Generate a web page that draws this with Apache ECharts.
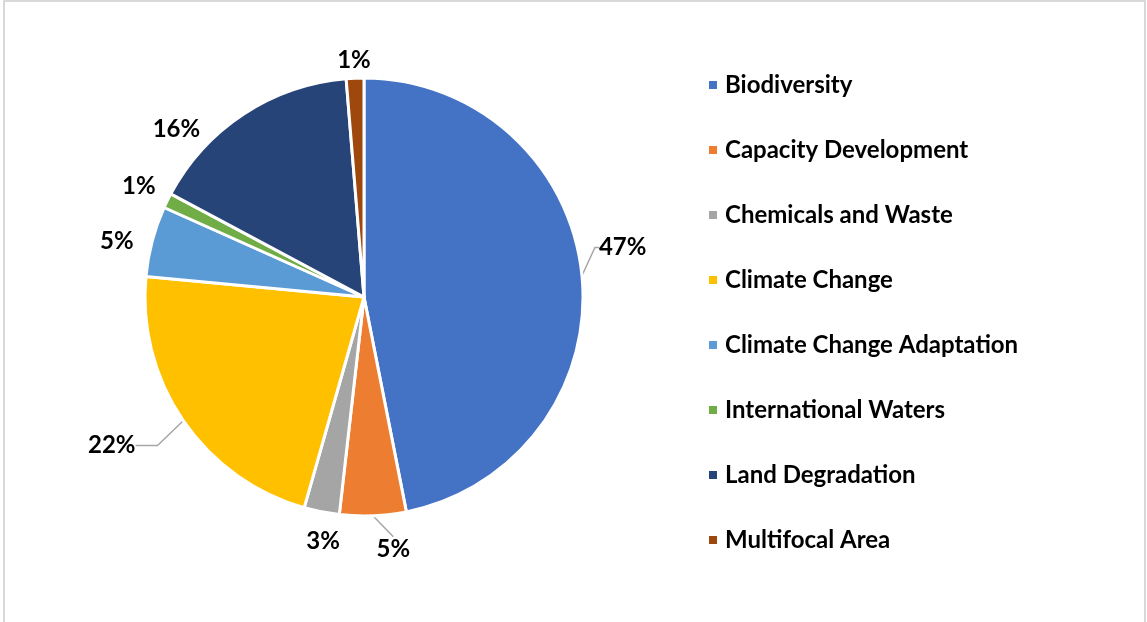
<!DOCTYPE html>
<html>
<head>
<meta charset="utf-8">
<script src="https://cdn.jsdelivr.net/npm/echarts@6/dist/echarts.min.js"></script>
<style>html,body{margin:0;padding:0;background:#fff}#c{width:1147px;height:622px}</style>
</head>
<body>
<div id="c"></div>
<script>
var categories = ['Biodiversity','Capacity Development','Chemicals and Waste','Climate Change','Climate Change Adaptation','International Waters','Land Degradation','Multifocal Area'];
var values = [46.9, 4.9, 2.6, 22.1, 5.2, 1.1, 15.9, 1.3];
var colors = ['#4472C4','#ED7D31','#A5A5A5','#FFC000','#5B9BD5','#70AD47','#264478','#9E480E'];

// per-slice label styling (line visibility/lengths and small label nudges)
var lineShow = [true, true, false, true, false, false, false, false];
var lineLen = [12, 14, 14, 30, 12, 12, 12, 8];
var lineLen2 = [4, 0, 0, 22, 0, 0, 0, 0];
var nudgeX = [-2, 0, 24, 2, -4, 2, -34, 19];
var nudgeY = [-27, 19, 16, 8, 3, -9, 25, -10];

var chart = echarts.init(document.getElementById('c'));
var font = 'Lato, "Open Sans", sans-serif';
var data = categories.map(function (n, i) {
  return {
    name: n, value: values[i],
    itemStyle: { color: colors[i] },
    labelLine: { show: lineShow[i], length: lineLen[i], length2: lineLen2[i] }
  };
});
chart.setOption({
  animation: false,
  graphic: [{
    type: 'rect', shape: { x: 4, y: 1, width: 1141, height: 700 },
    style: { fill: 'none', stroke: '#d9d9d9', lineWidth: 2 }, silent: true
  }],
  legend: {
    orient: 'vertical', left: 702, top: 68,
    itemWidth: 10, itemHeight: 10, itemGap: 41, icon: 'rect',
    textStyle: { fontFamily: font, fontWeight: 'bold', fontSize: 24, color: '#000', lineHeight: 24, padding: [0, 0, 0, 2] },
    data: categories
  },
  series: [{
    type: 'pie', center: [364, 297], radius: 219,
    startAngle: 90, clockwise: true,
    avoidLabelOverlap: false,
    itemStyle: { borderColor: '#fff', borderWidth: 3 },
    label: {
      show: true, position: 'outside', distanceToLabelLine: 3,
      fontFamily: font, fontWeight: 'bold', fontSize: 24, color: '#000',
      formatter: function (p) { return Math.round(p.percent) + '%'; }
    },
    labelLayout: function (p) {
      var r = p.labelRect;
      var ax = p.align === 'right' ? r.x + r.width : (p.align === 'center' ? r.x + r.width / 2 : r.x);
      var ay = p.verticalAlign === 'top' ? r.y : (p.verticalAlign === 'bottom' ? r.y + r.height : r.y + r.height / 2);
      return { x: ax + nudgeX[p.dataIndex], y: ay + nudgeY[p.dataIndex] };
    },
    labelLine: { lineStyle: { color: '#A6A6A6', width: 1.5 } },
    emphasis: { disabled: true },
    data: data
  }]
});
</script>
</body>
</html>
